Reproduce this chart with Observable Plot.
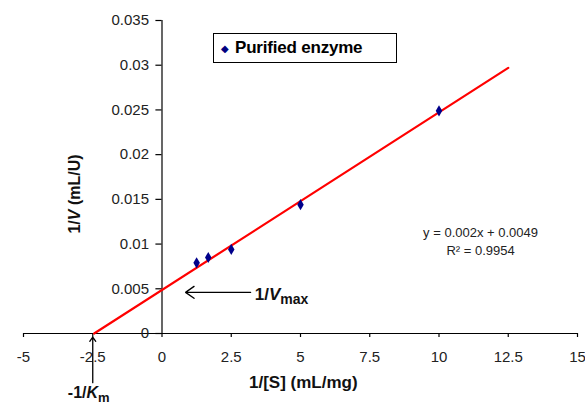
<!DOCTYPE html>
<html>
<head>
<meta charset="utf-8">
<script src="https://cdn.jsdelivr.net/npm/d3@7"></script>
<script src="https://cdn.jsdelivr.net/npm/@observablehq/plot@0.6"></script>
<style>
  html, body { margin: 0; padding: 0; background: #fff; }
  #wrap { position: relative; width: 585px; height: 403px; font-family: "Liberation Sans", Arial, sans-serif; }
  #legend { position: absolute; left: 213px; top: 33px; width: 182px; height: 28px; border: 1px solid #000;
            background: #fff; display: flex; align-items: center; box-sizing: content-box; }
  #legend .sym { color: #000080; font-size: 10px; margin-left: 7px; }
  #legend .lab { font-weight: bold; font-size: 17px; margin-left: 6px; color: #000; letter-spacing: -0.2px; }
</style>
</head>
<body>
<div id="wrap"></div>
<script>
// ---- data ----
const xTicks = [-5, -2.5, 0, 2.5, 5, 7.5, 10, 12.5, 15];
const xTickLabels = ["-5", "-2.5", "0", "2.5", "5", "7.5", "10", "12.5", "15"];
const yTicks = [0, 0.005, 0.01, 0.015, 0.02, 0.025, 0.03, 0.035];
const yTickLabels = ["0", "0.005", "0.01", "0.015", "0.02", "0.025", "0.03", "0.035"];
const invSubstrate = [1.25, 1.67, 2.5, 5, 10];          // 1/[S] (mL/mg)
const invVelocity = [0.0079, 0.0085, 0.0094, 0.0144, 0.0249]; // 1/V (mL/U)
const fitX = [-2.45, 12.5];
const fitY = [0, 0.0297];
const seriesName = "Purified enzyme";
const equationLines = ["y = 0.002x + 0.0049", "R² = 0.9954"];
const xTitle = "1/[S] (mL/mg)";
const yTitle = "1/V (mL/U)";

const points = invSubstrate.map((x, i) => ({x, y: invVelocity[i]}));
const fit = fitX.map((x, i) => ({x, y: fitY[i]}));
const vmaxArrow = [{x1: 3.2, x2: 0.85, y: 0.0046}];
const kmArrow = [{x: -2.5, y1: -0.0055, y2: -0.0004}];

const font = "Liberation Sans, Arial, sans-serif";

const chart = Plot.plot({
  width: 585,
  height: 403,
  marginLeft: 23,
  marginRight: 8,
  marginTop: 20,
  marginBottom: 70,
  x: {domain: [-5, 15], axis: null},
  y: {domain: [0, 0.035], axis: null},
  style: {fontFamily: font, fontSize: "15px", background: "white", color: "black", overflow: "visible"},
  marks: [
    // axes lines
    Plot.ruleY([0], {x1: -5, x2: 15, stroke: "black", strokeWidth: 1.2}),
    Plot.ruleX([0], {y1: 0, y2: 0.035, stroke: "black", strokeWidth: 1.2}),
    // ticks
    Plot.ruleX(xTicks, {x: d => d, y1: 0, y2: -0.00045, stroke: "black", strokeWidth: 1.2}),
    Plot.ruleY(yTicks, {y: d => d, x1: -0.22, x2: 0, stroke: "black", strokeWidth: 1.2}),
    // tick labels
    Plot.text(xTicks, {x: d => d, y: 0, dy: 24, text: (d, i) => xTickLabels[i], fill: "#222", fontSize: 15}),
    Plot.text(yTicks, {x: 0, y: d => d, dx: -13, textAnchor: "end", text: (d, i) => yTickLabels[i], fill: "#222", fontSize: 15}),
    // fit line
    Plot.line(fit, {x: "x", y: "y", stroke: "#ff0000", strokeWidth: 2.2}),
    // data points
    Plot.dot(points, {x: "x", y: "y", symbol: "diamond", r: 3.4, fill: "#00008b", stroke: "none"}),
    // annotations
    Plot.arrow(vmaxArrow, {x1: "x1", x2: "x2", y1: "y", y2: "y", stroke: "black", strokeWidth: 1.3, headLength: 12, headAngle: 70}),
    Plot.text(["1/Vmax"], {x: 3.35, y: 0.0044, textAnchor: "start", fontWeight: "bold", fontSize: 17, fill: "#111"}),
    Plot.arrow(kmArrow, {x1: "x", x2: "x", y1: "y1", y2: "y2", stroke: "black", strokeWidth: 1.3, headLength: 6, headAngle: 70}),
    Plot.text(["-1/Km"], {x: -3.4, y: -0.0066, textAnchor: "start", fontWeight: "bold", fontSize: 16, fill: "#111"}),
    Plot.text([equationLines[0]], {x: 11.5, y: 0.0113, fontSize: 13, fill: "#222", letterSpacing: 1.2}),
    Plot.text([equationLines[1]], {x: 11.5, y: 0.0092, fontSize: 13, fill: "#222", letterSpacing: 1.2}),
    // axis titles
    Plot.text([xTitle], {x: 5.1, y: -0.0055, fontWeight: "bold", fontSize: 17, fill: "#111"}),
    Plot.text([yTitle], {x: -3.15, y: 0.0156, rotate: -90, fontWeight: "bold", fontSize: 16, fill: "#111"})
  ]
});

// rich text: italic V, subscripts
d3.select(chart).selectAll("text").each(function() {
  const t = d3.select(this);
  const s = this.textContent;
  if (s === "1/Vmax") {
    t.text(null);
    t.append("tspan").text("1/");
    t.append("tspan").attr("font-style", "italic").text("V");
    t.append("tspan").attr("font-size", 14).attr("dy", "0.3em").text("max");
  } else if (s === "-1/Km") {
    t.text(null);
    t.append("tspan").text("-1/");
    t.append("tspan").attr("font-style", "italic").text("K");
    t.append("tspan").attr("font-size", 13).attr("dy", "0.3em").text("m");
  } else if (s === yTitle) {
    t.text(null);
    t.append("tspan").text("1/");
    t.append("tspan").attr("font-style", "italic").text("V");
    t.append("tspan").text(" (mL/U)");
  }
});

const wrap = document.getElementById("wrap");
wrap.appendChild(chart);
const legend = document.createElement("div");
legend.id = "legend";
legend.innerHTML = '<span class="sym">◆</span><span class="lab"></span>';
legend.querySelector(".lab").textContent = seriesName;
wrap.appendChild(legend);
</script>
</body>
</html>
